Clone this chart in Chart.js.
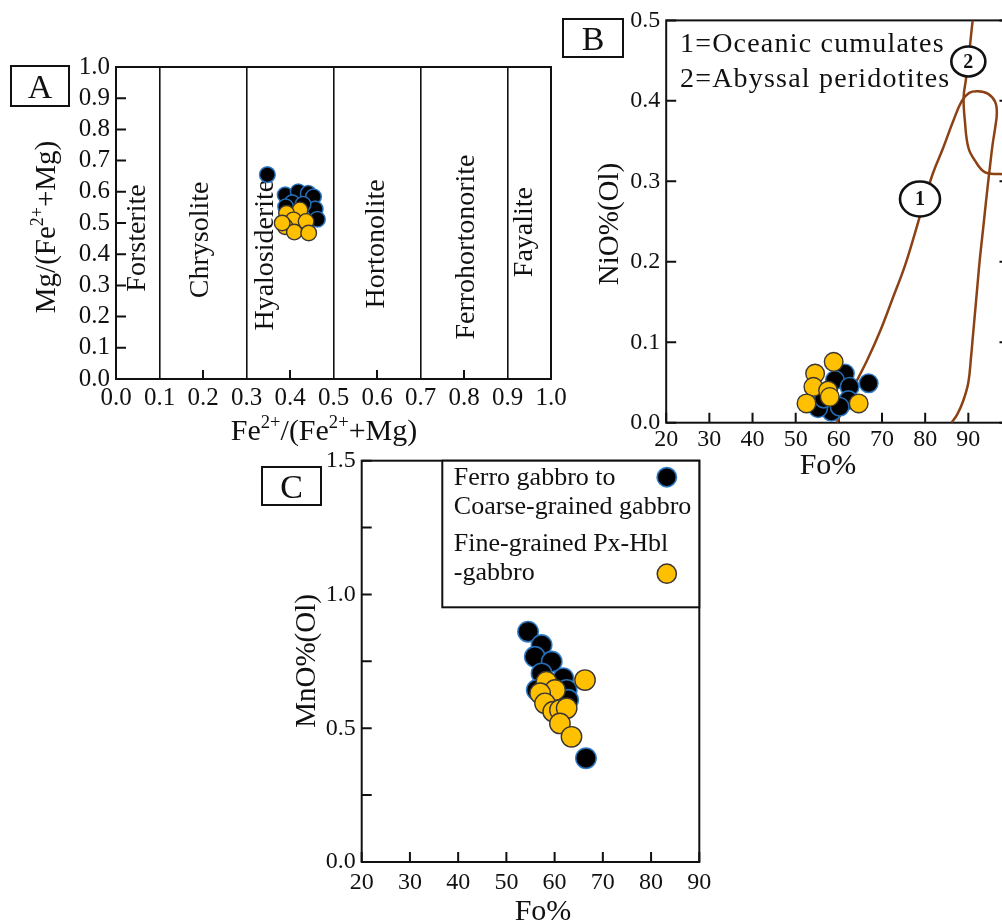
<!DOCTYPE html>
<html>
<head>
<meta charset="utf-8">
<script src="https://cdn.jsdelivr.net/npm/chart.js@4.4.0/dist/chart.umd.min.js"></script>
<style>
  html, body { margin: 0; padding: 0; background: #fff; width: 1002px; height: 922px; overflow: hidden; }
  canvas { position: absolute; left: 0; top: 0; }
</style>
</head>
<body>
<canvas id="panelA" width="1040" height="922"></canvas>
<canvas id="panelB" width="1040" height="922"></canvas>
<canvas id="panelC" width="1040" height="922"></canvas>
<script>
// ---------- Panel A: olivine classification, Fe2+/(Fe2++Mg) vs Mg/(Fe2++Mg) ----------
const aCoarseFe = [0.348, 0.389, 0.419, 0.442, 0.454, 0.405, 0.458, 0.463, 0.430, 0.390];
const aCoarseMg = [0.655, 0.590, 0.600, 0.595, 0.584, 0.565, 0.545, 0.512, 0.560, 0.552];
const aFineFe   = [0.423, 0.392, 0.408, 0.437, 0.389, 0.410, 0.443, 0.382];
const aFineMg   = [0.542, 0.531, 0.510, 0.505, 0.488, 0.471, 0.468, 0.500];
const aZoneNames = ['Forsterite', 'Chrysolite', 'Hyalosiderite', 'Hortonolite', 'Ferrohortonorite', 'Fayalite'];
const aZoneX     = [0.05, 0.195, 0.345, 0.60, 0.805, 0.94];
const aZoneY     = [0.452, 0.446, 0.397, 0.433, 0.423, 0.471];

// ---------- Panel B: Fo% vs NiO%(Ol) ----------
const bCoarseFo = [61.4, 59.1, 66.9, 62.5, 62.2, 58.3, 55.2, 60.2, 56.5];
const bCoarseNi = [0.061, 0.053, 0.049, 0.0446, 0.028, 0.0136, 0.018, 0.0198, 0.030];
const bFineFo   = [58.8, 54.5, 54.1, 52.5, 57.5, 57.9, 64.6];
const bFineNi   = [0.0756, 0.061, 0.0446, 0.024, 0.040, 0.032, 0.024];
// field 1 (oceanic cumulates) outline
const field1Fo = [59.5, 63.0, 66.5, 69.5, 72.5, 75.3, 77.6, 79.6, 81.8, 84.2, 86.5, 88.5, 90.2, 92.2, 94.5, 96.2, 96.6, 96.2, 95.6, 95.0, 94.4, 93.8, 93.2, 92.6, 92.1, 91.6, 91.1, 90.6, 90.0, 88.8, 87.4, 86.1];
const field1Ni = [0.0, 0.040, 0.077, 0.113, 0.155, 0.195, 0.235, 0.272, 0.310, 0.342, 0.375, 0.400, 0.410, 0.412, 0.409, 0.399, 0.385, 0.366, 0.345, 0.318, 0.290, 0.260, 0.230, 0.200, 0.170, 0.140, 0.110, 0.080, 0.050, 0.027, 0.010, 0.0];
// field 2 (abyssal peridotites) boundary
const field2Fo = [91.0, 90.5, 90.0, 89.4, 88.9, 89.2, 90.0, 91.5, 93.9, 97.3, 100];
const field2Ni = [0.500, 0.475, 0.449, 0.425, 0.404, 0.375, 0.342, 0.326, 0.311, 0.309, 0.309];
const fieldTags   = ['1', '2'];
const fieldTagFo  = [78.8, 90.0];
const fieldTagNi  = [0.278, 0.449];
const fieldLegend = ['1=Oceanic cumulates', '2=Abyssal peridotites'];

// ---------- Panel C: Fo% vs MnO%(Ol) ----------
const cCoarseFo = [54.5, 57.3, 55.9, 59.4, 57.3, 61.8, 62.5, 62.8, 66.5, 58.0, 56.3];
const cCoarseMn = [0.861, 0.811, 0.767, 0.749, 0.705, 0.687, 0.643, 0.606, 0.388, 0.655, 0.643];
const cFineFo   = [66.3, 58.3, 60.1, 57.0, 58.0, 59.7, 61.1, 62.5, 61.1, 63.5];
const cFineMn   = [0.680, 0.674, 0.643, 0.631, 0.593, 0.562, 0.568, 0.575, 0.518, 0.468];
const groupNames = [['Ferro gabbro to', 'Coarse-grained gabbro'], ['Fine-grained Px-Hbl', '-gabbro']];

// ---------- shared styling ----------
const SERIF = "'Liberation Serif', 'Times New Roman', serif";
const INK = '#111111';
const BROWN = '#8c4214';
const GOLD = '#ffc000';
const GOLD_EDGE = '#3b3631';
const BLUE_EDGE = 'rgba(38,118,196,0.9)';
const CANVAS_W = 1040, CANVAS_H = 922, Y_BOX = 50, X_BOX = 40;

const pts = (xs, ys) => xs.map((x, i) => ({ x, y: ys[i] }));

function coarseSet(data, r) {
  return { data, order: 2, pointRadius: r, pointBackgroundColor: '#000', pointBorderColor: BLUE_EDGE, pointBorderWidth: 1.6, showLine: false };
}
function fineSet(data, r) {
  return { data, order: 1, pointRadius: r, pointBackgroundColor: GOLD, pointBorderColor: GOLD_EDGE, pointBorderWidth: 1.4, showLine: false };
}

// Place the plot box at an exact pixel rectangle
function padFor(area) {
  return { left: area.left - Y_BOX, right: CANVAS_W - area.right, top: area.top, bottom: CANVAS_H - area.bottom - X_BOX };
}

function axis(pos, min, max, step, size, cb, grid, pad) {
  return {
    type: 'linear', position: pos, min, max,
    afterFit: s => { if (pos === 'left') s.width = Y_BOX; else s.height = X_BOX; },
    border: { display: false },
    grid: grid ? { drawTicks: false, lineWidth: 1.6, color: grid } : { display: false, drawTicks: false },
    ticks: { stepSize: step, padding: pad === undefined ? 6 : pad, color: INK, autoSkip: false, maxRotation: 0, font: { family: SERIF, size }, callback: cb }
  };
}

function baseOptions(area, xAxis, yAxis) {
  return {
    responsive: false, animation: false, devicePixelRatio: 1, events: [],
    layout: { autoPadding: false, padding: padFor(area) },
    plugins: { legend: { display: false }, tooltip: { enabled: false } },
    scales: { x: xAxis, y: yAxis }
  };
}

// ---------- drawing helpers ----------
function frame(chart) {
  const { ctx, chartArea: a } = chart;
  ctx.save();
  ctx.strokeStyle = INK; ctx.lineWidth = 2;
  ctx.strokeRect(a.left, a.top, a.right - a.left, a.bottom - a.top);
  ctx.restore();
}
function inwardTicks(chart, id, side, len, keep) {
  const { ctx, chartArea: a } = chart;
  const sc = chart.scales[id];
  ctx.save();
  ctx.strokeStyle = INK; ctx.lineWidth = 2;
  ctx.beginPath();
  sc.ticks.forEach(t => {
    if (keep && !keep(t.value)) return;
    const p = sc.getPixelForValue(t.value);
    if (side === 'bottom') { ctx.moveTo(p, a.bottom); ctx.lineTo(p, a.bottom - len); }
    if (side === 'left')   { ctx.moveTo(a.left, p); ctx.lineTo(a.left + len, p); }
    if (side === 'right')  { ctx.moveTo(a.right, p); ctx.lineTo(a.right - len, p); }
  });
  ctx.stroke();
  ctx.restore();
}
// text with optional superscript runs, centred on (cx, cy)
function richText(ctx, parts, cx, cy, size, vertical) {
  ctx.save();
  ctx.translate(cx, cy);
  if (vertical) ctx.rotate(-Math.PI / 2);
  const supSize = size * 0.62;
  const fontOf = p => `${p.sup ? supSize : size}px ${SERIF}`;
  let total = 0;
  parts.forEach(p => { ctx.font = fontOf(p); total += ctx.measureText(p.t).width; });
  let x = -total / 2;
  const base = size * 0.33;
  ctx.fillStyle = INK; ctx.textAlign = 'left'; ctx.textBaseline = 'alphabetic';
  parts.forEach(p => {
    ctx.font = fontOf(p);
    ctx.fillText(p.t, x, p.sup ? base - size * 0.4 : base);
    x += ctx.measureText(p.t).width;
  });
  ctx.restore();
}
function panelTag(ctx, letter, x, y, w, h) {
  ctx.save();
  ctx.strokeStyle = INK; ctx.lineWidth = 2;
  ctx.strokeRect(x, y, w, h);
  ctx.fillStyle = INK; ctx.font = `34px ${SERIF}`;
  ctx.textAlign = 'center'; ctx.textBaseline = 'alphabetic';
  ctx.fillText(letter, x + w / 2, y + h / 2 + 12);
  ctx.restore();
}
function marker(ctx, x, y, r, fill, edge, lw) {
  ctx.save();
  ctx.beginPath(); ctx.arc(x, y, r, 0, Math.PI * 2);
  ctx.fillStyle = fill; ctx.fill();
  ctx.strokeStyle = edge; ctx.lineWidth = lw; ctx.stroke();
  ctx.restore();
}

// ---------- Panel A ----------
const areaA = { left: 116, right: 551, top: 67, bottom: 379 };
const tenth = v => v.toFixed(1);
new Chart(document.getElementById('panelA'), {
  type: 'scatter',
  data: { datasets: [coarseSet(pts(aCoarseFe, aCoarseMg), 7.8), fineSet(pts(aFineFe, aFineMg), 7.8)] },
  options: baseOptions(areaA,
    axis('bottom', 0, 1, 0.1, 25, tenth, c => (Math.round(c.tick.value * 10) % 2 === 1 ? INK : 'rgba(0,0,0,0)'), 4),
    axis('left', 0, 1, 0.1, 25, tenth, null)),
  plugins: [{
    id: 'decorA',
    beforeDatasetsDraw(chart) {
      const { ctx, scales: { x, y } } = chart;
      frame(chart);
      inwardTicks(chart, 'y', 'left', 10);
      inwardTicks(chart, 'x', 'bottom', 9, v => Math.round(v * 10) % 2 === 0);
      ctx.save();
      ctx.fillStyle = INK; ctx.font = `28px ${SERIF}`;
      ctx.textAlign = 'center'; ctx.textBaseline = 'middle';
      aZoneNames.forEach((name, i) => {
        ctx.save();
        ctx.translate(x.getPixelForValue(aZoneX[i]), y.getPixelForValue(aZoneY[i]));
        ctx.rotate(-Math.PI / 2);
        ctx.fillText(name, 0, 0);
        ctx.restore();
      });
      ctx.restore();
    },
    afterDraw(chart) {
      const { ctx, chartArea: a } = chart;
      richText(ctx, [{ t: 'Fe' }, { t: '2+', sup: true }, { t: '/(Fe' }, { t: '2+', sup: true }, { t: '+Mg)' }], 324, a.bottom + 51, 30, false);
      richText(ctx, [{ t: 'Mg/(Fe' }, { t: '2+', sup: true }, { t: '+Mg)' }], 45, 227, 29, true);
      panelTag(ctx, 'A', 11, 66, 58, 40);
    }
  }]
});

// ---------- Panel B ----------
const areaB = { left: 666.2, right: 1011.5, top: 19.3, bottom: 422.7 };
const lineSet = (data) => ({ data, order: 3, showLine: true, pointRadius: 0, borderColor: BROWN, borderWidth: 2.5, tension: 0.4, fill: false });
new Chart(document.getElementById('panelB'), {
  type: 'scatter',
  data: { datasets: [
    lineSet(pts(field1Fo, field1Ni)),
    lineSet(pts(field2Fo, field2Ni)),
    coarseSet(pts(bCoarseFo, bCoarseNi), 9.3),
    fineSet(pts(bFineFo, bFineNi), 9.3)
  ] },
  options: baseOptions(areaB,
    axis('bottom', 20, 100, 10, 24, v => (v === 100 ? '' : String(v)), null, 3),
    axis('left', 0, 0.5, 0.1, 24, tenth, null)),
  plugins: [{
    id: 'decorB',
    beforeDatasetsDraw(chart) {
      frame(chart);
      inwardTicks(chart, 'y', 'left', 10);
      inwardTicks(chart, 'y', 'right', 12);
      inwardTicks(chart, 'x', 'bottom', 10);
    },
    afterDatasetsDraw(chart) {
      const { ctx, scales: { x, y } } = chart;
      const radii = [[20, 17.5], [17, 15]];
      fieldTags.forEach((tag, i) => {
        const px = x.getPixelForValue(fieldTagFo[i]), py = y.getPixelForValue(fieldTagNi[i]);
        ctx.save();
        ctx.beginPath(); ctx.ellipse(px, py, radii[i][0], radii[i][1], 0, 0, Math.PI * 2);
        ctx.fillStyle = '#fff'; ctx.fill();
        ctx.strokeStyle = INK; ctx.lineWidth = 2.6; ctx.stroke();
        ctx.fillStyle = INK; ctx.font = `bold 20px ${SERIF}`;
        ctx.textAlign = 'center'; ctx.textBaseline = 'middle';
        ctx.fillText(tag, px, py + 1);
        ctx.restore();
      });
    },
    afterDraw(chart) {
      const { ctx } = chart;
      ctx.save();
      ctx.fillStyle = INK; ctx.font = `28px ${SERIF}`;
      ctx.textAlign = 'left'; ctx.textBaseline = 'alphabetic';
      ctx.letterSpacing = '1.2px';
      ctx.fillText(fieldLegend[0], 680, 52);
      ctx.fillText(fieldLegend[1], 680, 87);
      ctx.restore();
      richText(ctx, [{ t: 'Fo%' }], 828, 464, 30, false);
      richText(ctx, [{ t: 'NiO%(Ol)' }], 608, 224, 29, true);
      panelTag(ctx, 'B', 563, 19, 60, 38);
    }
  }]
});

// ---------- Panel C ----------
const areaC = { left: 361.7, right: 699.3, top: 460.7, bottom: 862 };
new Chart(document.getElementById('panelC'), {
  type: 'scatter',
  data: { datasets: [coarseSet(pts(cCoarseFo, cCoarseMn), 10.2), fineSet(pts(cFineFo, cFineMn), 10.2)] },
  options: baseOptions(areaC,
    axis('bottom', 20, 90, 10, 24, v => String(v), null),
    axis('left', 0, 1.5, 0.25, 24, v => (Math.abs(v * 2 - Math.round(v * 2)) < 1e-6 ? v.toFixed(1) : ''), null)),
  plugins: [{
    id: 'decorC',
    beforeDatasetsDraw(chart) {
      frame(chart);
      inwardTicks(chart, 'y', 'left', 10);
      inwardTicks(chart, 'x', 'bottom', 10);
    },
    afterDraw(chart) {
      const { ctx, chartArea: a } = chart;
      // legend box in the upper right corner of the plot
      const lx = a.right - 257, ly = a.top, lw = 257, lh = 146.6;
      ctx.save();
      ctx.fillStyle = '#fff'; ctx.fillRect(lx, ly, lw, lh);
      ctx.strokeStyle = INK; ctx.lineWidth = 2; ctx.strokeRect(lx, ly, lw, lh);
      ctx.fillStyle = INK; ctx.font = `26px ${SERIF}`;
      ctx.textAlign = 'left'; ctx.textBaseline = 'alphabetic';
      ctx.fillText(groupNames[0][0], lx + 11.5, ly + 24.5);
      ctx.fillText(groupNames[0][1], lx + 11.5, ly + 53.5);
      ctx.fillText(groupNames[1][0], lx + 11.5, ly + 90.5);
      ctx.fillText(groupNames[1][1], lx + 11.5, ly + 119.5);
      ctx.restore();
      marker(ctx, lx + 224.5, ly + 16.5, 9.6, '#000', BLUE_EDGE, 1.8);
      marker(ctx, lx + 224.5, ly + 113, 9.6, GOLD, GOLD_EDGE, 1.5);
      richText(ctx, [{ t: 'Fo%' }], 543, 910, 30, false);
      richText(ctx, [{ t: 'MnO%(Ol)' }], 305, 661, 29, true);
      panelTag(ctx, 'C', 262, 467, 59, 38);
    }
  }]
});
</script>
</body>
</html>
